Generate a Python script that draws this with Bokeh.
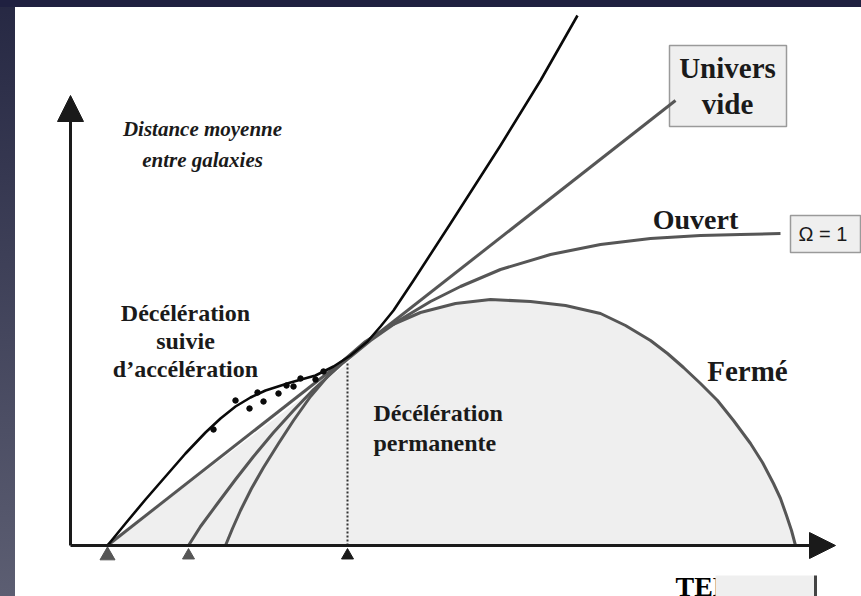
from bokeh.plotting import figure
from bokeh.models import Range1d, Arrow, NormalHead
from bokeh.embed import file_html
from bokeh.resources import INLINE
from bokeh.core.properties import value

# ---------------- data (time, mean distance) ----------------
# black curve: deceleration followed by acceleration
accel_t = [37, 55, 75, 95, 115, 135, 150, 165, 180, 195, 220, 245, 263, 280, 297, 310, 323, 343, 380, 430, 470, 507]
accel_d = [0, 22, 46, 69, 92, 113, 127, 139, 148, 155, 163, 170, 179, 190, 204, 219, 235, 265, 322, 400, 465, 530]
# observed points (supernovae)
obs_t = [143, 165, 179, 187, 193, 208, 216, 223, 230, 245, 253]
obs_d = [116, 145, 137, 153, 144, 152, 160, 159, 167, 166, 174]
# empty universe (straight line)
empty_t = [37, 605]
empty_d = [0, 445]
# open universe
open_t = [118, 130, 147, 165, 183, 203, 223, 243, 263, 273, 300, 330, 360, 390, 430, 480, 530, 580, 630, 670, 710]
open_d = [0, 19, 42, 66, 89, 113, 135, 156, 174, 183, 205, 226, 244, 259, 276, 291, 301, 307, 310, 311, 312]
# closed universe
closed_t = [155, 162, 170, 181, 193, 208, 223, 240, 257, 273, 295, 320, 350, 385, 420, 460, 495, 530,
            555, 580, 597, 613, 630, 647, 663, 680, 692, 703, 710, 716, 721, 725]
closed_d = [0, 17, 35, 57, 78, 102, 125, 149, 169, 185, 204, 220, 233, 242, 246, 244, 240, 232,
            220, 205, 192, 178, 162, 145, 125, 102, 83, 62, 47, 30, 15, 0]
# today
now_t = 277
now_d = 182
# start times marked on the time axis
start_t = [37, 118, 277]

# ---------------- figure ----------------
p = figure(width=861, height=596, x_range=Range1d(-70, 791), y_range=Range1d(-51, 545),
           output_backend="svg", toolbar_location=None, min_border=0,
           x_axis_type=None, y_axis_type=None)
p.grid.visible = False
p.outline_line_color = None
p.border_fill_alpha = 0
p.background_fill_alpha = 0

SERIF = value("Liberation Serif")
DARK = "#1a1a1a"
GREY = "#565656"

# shaded region (below empty-universe line up to today, then below closed curve)
fill_t = [empty_t[0], now_t] + [t for t in closed_t if t > now_t]
fill_d = [empty_d[0], now_d] + [d for t, d in zip(closed_t, closed_d) if t > now_t]
p.patch(fill_t, fill_d, fill_color="#efefef", line_color=None)

# "Univers vide" box
p.quad(left=[599], right=[716], top=[500], bottom=[419], fill_color="#efefef",
       line_color="#9a9a9a", line_width=1.5)
# Omega = 1 box
p.quad(left=[720], right=[790], top=[330], bottom=[293], fill_color="#efefef",
       line_color="#9a9a9a", line_width=1.5)

# curves
p.line(empty_t, empty_d, line_color=GREY, line_width=3)
p.line(open_t, open_d, line_color=GREY, line_width=3, line_join="round")
p.line(closed_t, closed_d, line_color=GREY, line_width=3, line_join="round")
p.line(accel_t, accel_d, line_color="#0a0a0a", line_width=2.6, line_join="round")
p.scatter(obs_t, obs_d, size=5.5, fill_color="#0a0a0a", line_color="#0a0a0a")

# today (dotted)
p.segment(x0=[now_t], y0=[0], x1=[now_t], y1=[now_d], line_color="#333333",
          line_width=2, line_dash="2 2")

# axes with arrow heads
p.add_layout(Arrow(end=NormalHead(size=26, fill_color=DARK, line_color=DARK),
                   x_start=0, y_start=0, x_end=0, y_end=450,
                   line_color=DARK, line_width=3))
p.add_layout(Arrow(end=NormalHead(size=26, fill_color=DARK, line_color=DARK),
                   x_start=0, y_start=0, x_end=765, y_end=0,
                   line_color=DARK, line_width=3))

# start markers under the time axis
p.scatter(start_t, [-10, -10, -10], marker="triangle", size=[15, 12, 12],
          fill_color=[GREY, GREY, DARK], line_color=[GREY, GREY, DARK])

# texts
p.text(x=[132, 132], y=[417, 386], text=["Distance moyenne", "entre galaxies"],
       text_font=SERIF, text_font_style="bold italic", text_font_size="21px",
       text_align="center", text_baseline="middle", text_color=DARK)
p.text(x=[115, 115, 115], y=[233, 205, 177],
       text=["Décélération", "suivie", "d\u2019accélération"],
       text_font=SERIF, text_font_style="bold", text_font_size="24px",
       text_align="center", text_baseline="middle", text_color=DARK)
p.text(x=[303, 303], y=[133, 103], text=["Décélération", "permanente"],
       text_font=SERIF, text_font_style="bold", text_font_size="24px",
       text_align="left", text_baseline="middle", text_color=DARK)
p.text(x=[657, 657], y=[478, 442], text=["Univers", "vide"],
       text_font=SERIF, text_font_style="bold", text_font_size="29px",
       text_align="center", text_baseline="middle", text_color=DARK)
p.text(x=[625], y=[326], text=["Ouvert"],
       text_font=SERIF, text_font_style="bold", text_font_size="28px",
       text_align="center", text_baseline="middle", text_color=DARK)
p.text(x=[677], y=[175], text=["Fermé"],
       text_font=SERIF, text_font_style="bold", text_font_size="29px",
       text_align="center", text_baseline="middle", text_color=DARK)
p.text(x=[728], y=[312], text=["\u03a9 = 1"],
       text_font=value("Liberation Sans"), text_font_size="20px",
       text_align="left", text_baseline="middle", text_color=DARK)

# partly hidden axis title
p.text(x=[605], y=[-25], text=["TEMPS"],
       text_font=SERIF, text_font_style="bold", text_font_size="28px",
       text_align="left", text_baseline="top", text_color="#000000")
p.quad(left=[645], right=[745], top=[-30], bottom=[-60], fill_color="#efefef", line_color=None)
p.segment(x0=[745], y0=[-30], x1=[745], y1=[-60], line_color="#444444", line_width=3)

html = file_html(p, INLINE)
css = ("<style>html{height:100%;}body{background:"
       "linear-gradient(#1f2040,#1f2040) left top/100% 7px no-repeat,"
       "linear-gradient(to bottom,#262843,#5c5e72) left top/15px 100% no-repeat,"
       "#ffffff;}</style>")
html = html.replace("</head>", css + "</head>", 1)
open("out.html", "w").write(html)
